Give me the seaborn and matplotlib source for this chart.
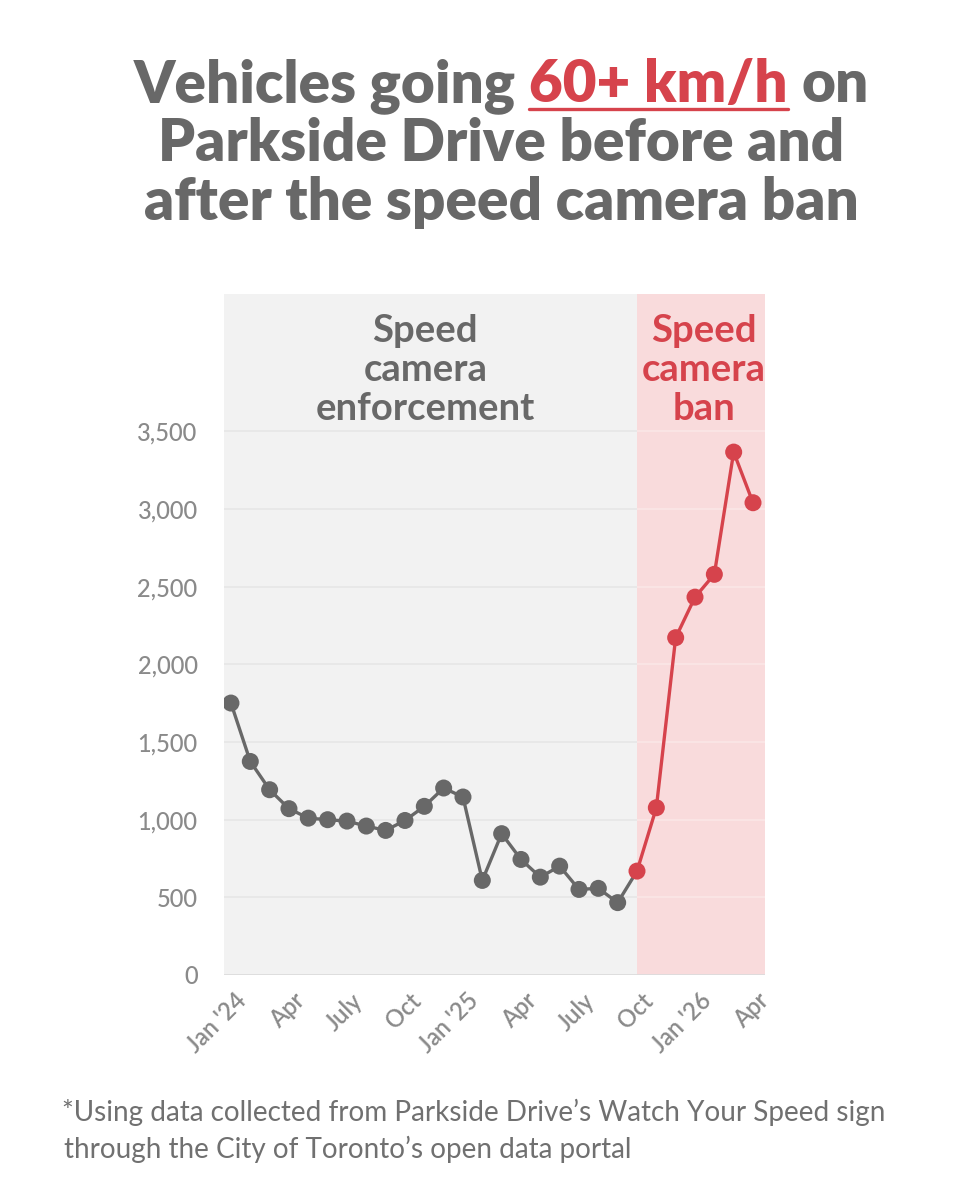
import numpy as np
import pandas as pd
import matplotlib
matplotlib.use('Agg')
import matplotlib.pyplot as plt
import matplotlib.transforms as mtransforms
import seaborn as sns
from matplotlib import font_manager

# monthly counts of vehicles at 60+ km/h, Jan 2024 .. Apr 2026
months = ['2024-01', '2024-02', '2024-03', '2024-04', '2024-05', '2024-06', '2024-07',
          '2024-08', '2024-09', '2024-10', '2024-11', '2024-12', '2025-01', '2025-02',
          '2025-03', '2025-04', '2025-05', '2025-06', '2025-07', '2025-08', '2025-09',
          '2025-10', '2025-11', '2025-12', '2026-01', '2026-02', '2026-03', '2026-04']
vehicles = [1751, 1375, 1193, 1071, 1010, 1000, 991, 959, 931, 995, 1086, 1204, 1146, 609,
            910, 744, 630, 701, 551, 558, 466, 669, 1077, 2172, 2433, 2580, 3367, 3041]
ban_start = '2025-10'

tick_months = ['2024-01', '2024-04', '2024-07', '2024-10', '2025-01',
               '2025-04', '2025-07', '2025-10', '2026-01', '2026-04']
tick_labels = ["Jan '24", 'Apr', 'July', 'Oct', "Jan '25", 'Apr', 'July', 'Oct', "Jan '26", 'Apr']
y_ticks = [0, 500, 1000, 1500, 2000, 2500, 3000, 3500]

df = pd.DataFrame({'month': months, 'vehicles': vehicles})
df['pos'] = np.arange(len(df))
ban_pos = df.loc[df['month'] == ban_start, 'pos'].iloc[0]
before = df[df['pos'] <= ban_pos]
after = df[df['pos'] >= ban_pos]

GREY = '#686868'
RED = '#d6434c'
TICK = '#8a8a8a'

names = {f.name for f in font_manager.fontManager.ttflist}
FONT = 'Lato' if 'Lato' in names else 'DejaVu Sans'

sns.set_theme(style='white')
plt.rcParams['font.family'] = [FONT, 'DejaVu Sans']

W, H = 978, 1200
fig = plt.figure(figsize=(W / 100, H / 100), dpi=100)
fig.patch.set_facecolor('white')
ax = fig.add_axes([224 / W, 1 - 975 / H, (765 - 224) / W, (975 - 294) / H])


def px(x, y):
    return x / W, 1 - y / H


ax.set_facecolor('#f2f2f2')
ax.set_xlim(-0.36, 27.62)
ax.set_ylim(0, 4385)
ax.axvspan(ban_pos, 27.62, color='#f9dbdc', lw=0, zorder=0)

# faint grid lines, lighter inside the pink zone
for v in y_ticks[1:]:
    ax.hlines(v, -0.36, ban_pos, color='#e7e7e7', lw=1.2, zorder=1)
    ax.hlines(v, ban_pos, 27.62, color='#fbe6e6', lw=1.2, zorder=1)
ax.axhline(0, color='#dcdcdc', lw=2, zorder=1)

sns.lineplot(data=before, x='pos', y='vehicles', ax=ax, color=GREY, lw=2.4, zorder=3)
sns.scatterplot(data=before[before['pos'] < ban_pos], x='pos', y='vehicles', ax=ax,
                color=GREY, s=150, edgecolor='none', zorder=4)
sns.lineplot(data=after, x='pos', y='vehicles', ax=ax, color=RED, lw=2.4, zorder=3)
sns.scatterplot(data=after, x='pos', y='vehicles', ax=ax,
                color=RED, s=150, edgecolor='none', zorder=4)

for s in ax.spines.values():
    s.set_visible(False)
ax.set_xlabel('')
ax.set_ylabel('')

ax.set_yticks(y_ticks)
ax.set_yticklabels([f'{v:,}' for v in y_ticks], fontsize=17, color=TICK, fontweight='medium')
tick_pos = [df.loc[df['month'] == m, 'pos'].iloc[0] for m in tick_months]
ax.set_xticks(tick_pos)
ax.set_xticklabels(tick_labels, fontsize=17, color=TICK, fontweight='semibold',
                   rotation=45, ha='right', va='center', rotation_mode='anchor')
ax.tick_params(axis='y', length=0, pad=19)
ax.tick_params(axis='x', length=0, pad=16)
shift = mtransforms.ScaledTranslation(12 / 100, 0, fig.dpi_scale_trans)
for lab in ax.get_xticklabels():
    lab.set_transform(lab.get_transform() + shift)

# zone labels
ax.text(10.05, 4255, 'Speed\ncamera\nenforcement', ha='center', va='top',
        fontsize=27.5, fontweight='bold', color=GREY, linespacing=1.17)
ax.text(24.45, 4255, 'Speed\ncamera\nban', ha='center', va='top',
        fontsize=27.5, fontweight='bold', color=RED, linespacing=1.17)

# title
fig.canvas.draw()
renderer = fig.canvas.get_renderer()
TS = 40
cx = 501


def width(t):
    return t.get_window_extent(renderer).width


probe = fig.text(0, 0, 'after the speed camera ban', fontsize=TS, fontweight='heavy')
TS = TS * 715 / width(probe)
probe.remove()

t1 = fig.text(*px(0, 102), 'Vehicles going', fontsize=TS, fontweight='heavy', color=GREY, va='baseline')
t2 = fig.text(*px(0, 102), '60+ km/h', fontsize=TS, fontweight='heavy', color=RED, va='baseline')
t3 = fig.text(*px(0, 102), 'on', fontsize=TS, fontweight='heavy', color=GREY, va='baseline')
sp_a = fig.text(0, 0, 'a a', fontsize=TS, fontweight='heavy')
sp_b = fig.text(0, 0, 'aa', fontsize=TS, fontweight='heavy')
space = width(sp_a) - width(sp_b)
sp_a.remove()
sp_b.remove()
w1, w2, w3 = width(t1), width(t2), width(t3)
x0 = cx - (w1 + w2 + w3 + 2 * space) / 2
t1.set_x(x0 / W)
t2.set_x((x0 + w1 + space) / W)
t3.set_x((x0 + w1 + w2 + 2 * space) / W)
ux0 = x0 + w1 + space
fig.add_artist(plt.Line2D([ux0 / W, (ux0 + w2) / W], [1 - 109 / H, 1 - 109 / H],
                          color=RED, lw=2.4, transform=fig.transFigure))

fig.text(*px(cx, 161), 'Parkside Drive before and', fontsize=TS, fontweight='heavy',
         color=GREY, ha='center', va='baseline')
fig.text(*px(cx, 220), 'after the speed camera ban', fontsize=TS, fontweight='heavy',
         color=GREY, ha='center', va='baseline')

# footnote
f1 = fig.text(*px(62, 1121), "*Using data collected from Parkside Drive\u2019s Watch Your Speed sign",
              fontsize=20, color='#707070', fontweight='normal', va='baseline')
fs = 20 * 823 / width(f1)
f1.set_fontsize(fs)
fig.text(*px(64, 1158), "through the City of Toronto\u2019s open data portal",
         fontsize=fs, color='#707070', fontweight='normal', va='baseline')

fig.savefig('out.png', dpi=100, facecolor='white')
